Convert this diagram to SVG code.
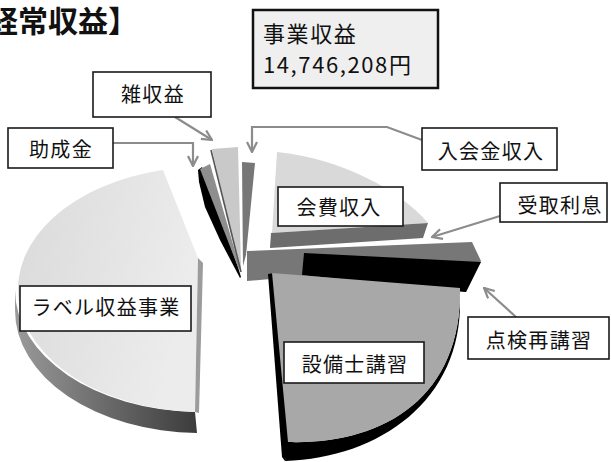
<svg xmlns="http://www.w3.org/2000/svg" width="611" height="462" viewBox="0 0 611 462">
<style>
.lbl{fill:#fff;stroke:#1a1a1a;stroke-width:1.6}
.t{font-family:"Noto Sans CJK JP","Noto Sans",sans-serif;font-size:20px;letter-spacing:1.3px;fill:#111;text-anchor:middle}
.con{fill:none;stroke:#8c8c8c;stroke-width:2.2}
</style>
<defs>
<marker id="ah" viewBox="0 0 12 12" refX="11" refY="6" markerWidth="12" markerHeight="12" markerUnits="userSpaceOnUse" orient="auto">
<path d="M1,1 L11,6 L1,11" fill="none" stroke="#8c8c8c" stroke-width="2.2"/>
</marker>
<linearGradient id="gTop" x1="0" y1="0" x2="1" y2="0.3">
<stop offset="0" stop-color="#dadada"/><stop offset="1" stop-color="#ececec"/>
</linearGradient>
<linearGradient id="gSide" x1="0" y1="0" x2="1" y2="0">
<stop offset="0" stop-color="#9a9a9a"/><stop offset="0.5" stop-color="#6a6a6a"/><stop offset="1" stop-color="#3c3c3c"/>
</linearGradient>
</defs>

<text x="-12" y="32" font-family="'Noto Sans CJK JP','Noto Sans',sans-serif" font-size="30" font-weight="bold" fill="#111">経常収益】</text>

<g id="pie">
<!-- ラベル収益事業 slice -->
<path d="M195,412 L197,433 A185,122.5 0 0 1 15,310 L15,290 A185,122.5 0 0 0 195,412 Z" fill="url(#gSide)"/>
<path d="M198,258 L163,170 A185,122.5 0 0 0 195,412 Z" fill="url(#gTop)"/>
<polygon points="198,258 203,263 199,413 195,412" fill="#9c9c9c"/>
<!-- 助成金 slice -->
<polygon points="198,170 202,167 238,267 241,277 240,278 220,240 205,207 199,182" fill="#000"/>
<polygon points="200,169 210,164 241,272 238,267" fill="#8e8e8e"/>
<!-- 雑収益 slice -->
<polygon points="212,149 238,147 241,268 240,271" fill="#c9c9c9"/>
<line x1="211" y1="150" x2="241" y2="272" stroke="#555" stroke-width="1.6"/>
<!-- 入会金収入 slice -->
<polygon points="242,162 255,163 246,255 243,266" fill="#777"/>
<!-- 会費収入 slice -->
<path d="M272,233 L277,152 C340,158 400,190 428,223 Z" fill="#d9d9d9"/>
<polygon points="271,233 428,223 423,238 270,248" fill="#6d6d6d"/>
<!-- 受取利息 / 点検再講習 bar -->
<polygon points="247,251 472,242 481,261 466,292 303,276 247,281" fill="#777"/>
<polygon points="304,253 481,262 466,292 302,275" fill="#000"/>
<!-- 設備士講習 slice -->
<polygon points="268,274 274,273 290,443 285,461 282,457" fill="#000"/>
<path d="M460,288 C462,400 380,445 287,442 L285,461 C380,458 462,400 460,300 Z" fill="#000"/>
<path d="M272,273 L460,288 C462,400 380,445 288,442 Z" fill="#a8a8a8"/>
</g>

<g id="connectors">
<path class="con" d="M113,143 L193,143 L193,166" marker-end="url(#ah)"/>
<path class="con" d="M175,117 L212,140" marker-end="url(#ah)"/>
<path class="con" d="M422,140 L387,127 L252,127 L252,152" marker-end="url(#ah)"/>
<path class="con" d="M500,216 L432,237" marker-end="url(#ah)"/>
<path class="con" d="M516,317 L484,288" marker-end="url(#ah)"/>
</g>

<g id="node-total">
<rect x="253" y="10" width="185" height="78" fill="#efefef" stroke="#111" stroke-width="2.5"/>
<text x="263" y="42" font-family="'Noto Sans CJK JP','Noto Sans',sans-serif" font-size="22" letter-spacing="1.6" fill="#111">事業収益</text>
<text x="263" y="73" font-family="'Noto Sans CJK JP','Noto Sans',sans-serif" font-size="22" letter-spacing="1.6" fill="#111">14,746,208円</text>
</g>
<g id="node-zatsu"><rect class="lbl" x="93" y="72" width="118" height="45"/><text class="t" x="153" y="102">雑収益</text></g>
<g id="node-josei"><rect class="lbl" x="8" y="128" width="105" height="40"/><text class="t" x="61" y="157">助成金</text></g>
<g id="node-nyukai"><rect class="lbl" x="422" y="128" width="135" height="42"/><text class="t" x="491" y="159">入会金収入</text></g>
<g id="node-uketori"><rect class="lbl" x="500" y="183" width="107" height="39"/><text class="t" x="560" y="213">受取利息</text></g>
<g id="node-kaihi"><rect class="lbl" x="278" y="187" width="125" height="39"/><text class="t" x="339" y="215">会費収入</text></g>
<g id="node-tenken"><rect class="lbl" x="468" y="317" width="141" height="42"/><text class="t" x="539" y="348">点検再講習</text></g>
<g id="node-setsubi"><rect class="lbl" x="284" y="342" width="140" height="41"/><text class="t" x="355" y="372">設備士講習</text></g>
<g id="node-label"><rect class="lbl" x="20" y="286" width="171" height="45"/><text class="t" x="106" y="315">ラベル収益事業</text></g>
</svg>
